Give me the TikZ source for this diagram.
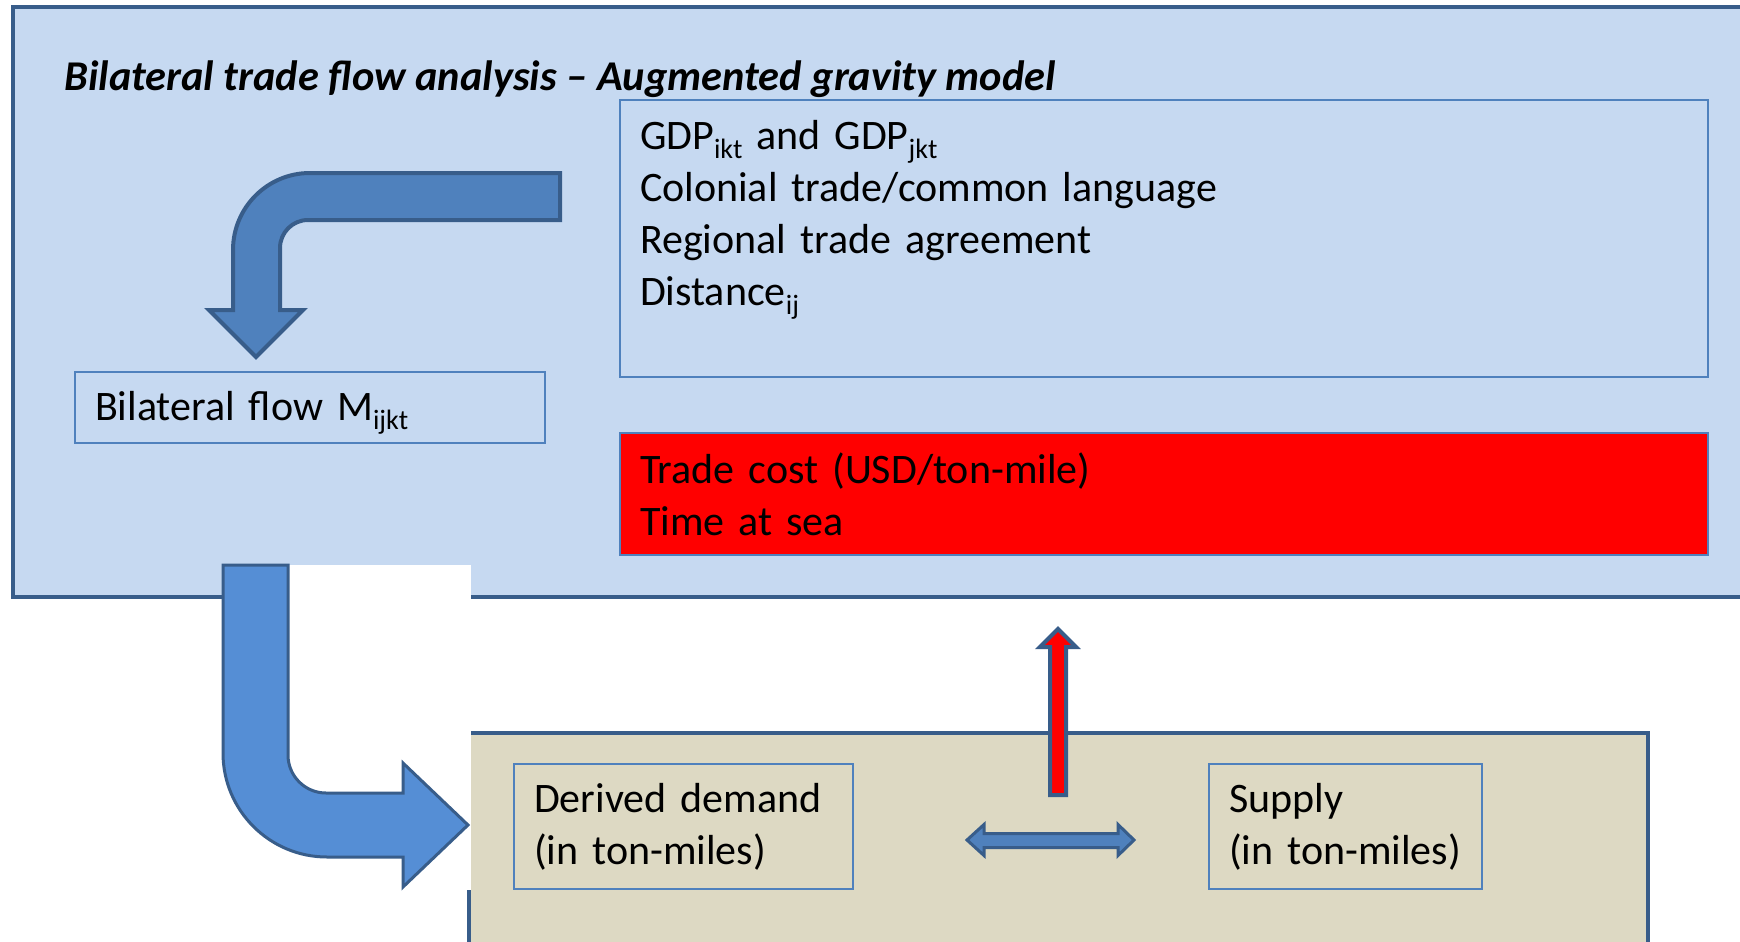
\documentclass[tikz,border=0pt]{standalone}
\usepackage{fontspec}
\setmainfont{Carlito}

\definecolor{panelblue}{HTML}{C6D9F1}
\definecolor{framedark}{HTML}{385D8A}
\definecolor{boxline}{HTML}{4F81BD}
\definecolor{arrowmid}{HTML}{4F81BD}
\definecolor{arrowlight}{HTML}{558ED5}
\definecolor{sand}{HTML}{DDD9C3}

% lowered index after a name
\newcommand{\lowidx}[1]{\raisebox{-0.45ex}{\fontsize{14}{14}\selectfont #1}}

\begin{document}
\begin{tikzpicture}[
    x=0.5pt, y=-0.5pt,
    % Define styles
    panel/.style={
        draw=framedark,
        line width=1.75pt
    },
    info_box/.style={
        draw=boxline,
        line width=1pt,
        anchor=north west,
        align=left,
        inner xsep=10pt,
        inner ysep=0pt,
        font=\fontsize{21}{26}\selectfont
    },
    title_text/.style={
        font=\fontsize{21.2}{24}\selectfont\bfseries\itshape,
        anchor=west,
        inner sep=0pt
    },
    block_arrow/.style={
        draw=framedark,
        line width=2pt,
        fill=arrowmid,
        line join=miter
    }
]
    \clip (0,0) rectangle (1740,942);

    % --- Panels ---
    \fill[white] (0,0) rectangle (1740,942);
    \draw[panel, fill=panelblue] (13,7) rectangle (1780,597);
    \draw[panel, fill=sand] (469,733) rectangle (1648,990);
    % White gap where the lower arrow leaves the top panel
    \fill[white] (223,565) rectangle (471,890);

    % Title
    \node[title_text] (title) at (64,79)
        {Bilateral trade flow analysis -- Augmented gravity model};

    % --- Boxes ---
    \node[info_box, text width=524pt, minimum height=138.5pt] (factors) at (619,99)
        {GDP\lowidx{ikt} and GDP\lowidx{jkt}\\
         Colonial trade/common language\\
         Regional trade agreement\\
         Distance\lowidx{ij}\\
         \mbox{}};
    \node[info_box, text width=524pt, minimum height=61pt, fill=red] (cost) at (619,432)
        {Trade cost (USD/ton-mile)\\Time at sea};
    \node[info_box, text width=215pt, minimum height=35.5pt] (flow) at (74,371)
        {\raisebox{-2.5pt}[\height][\depth]{Bilateral flow M\lowidx{ijkt}}};
    \node[info_box, text width=149.5pt, minimum height=62.5pt] (demand) at (513,763)
        {Derived demand\\(in ton-miles)};
    \node[info_box, text width=116.5pt, minimum height=62.5pt] (supply) at (1208,763)
        {Supply\\(in ton-miles)};

    % --- Block arrows ---
    % Factors bend down onto the bilateral flow
    \draw[block_arrow] (560,173) -- (310,173)
        arc[start angle=270, end angle=180, radius=77] -- (233,310)
        -- (209,310) -- (256,357) -- (303,310) -- (280,310) -- (280,248)
        arc[start angle=180, end angle=270, radius=28] -- (560,220) -- cycle;

    % Bilateral flow turns into derived demand
    \draw[block_arrow, line width=1.5pt, fill=arrowlight] (223,565) -- (223,753)
        arc[start angle=180, end angle=90, radius=104] -- (403,857)
        -- (403,887) -- (468,825) -- (403,763) -- (403,793) -- (326,793)
        arc[start angle=90, end angle=180, radius=38] -- (288,565) -- cycle;

    % Feedback up to the trade cost
    \draw[block_arrow, fill=red] (1050,795) -- (1050,647) -- (1040,647)
        -- (1058,629) -- (1076,647) -- (1066,647) -- (1066,795) -- cycle;

    % Demand and supply balance
    \draw[block_arrow, line width=1.5pt] (967,840) -- (984,824.5) -- (984,833.5)
        -- (1118,833.5) -- (1118,824.5) -- (1134,840) -- (1118,855.5)
        -- (1118,847.5) -- (984,847.5) -- (984,855.5) -- cycle;

\end{tikzpicture}
\end{document}
